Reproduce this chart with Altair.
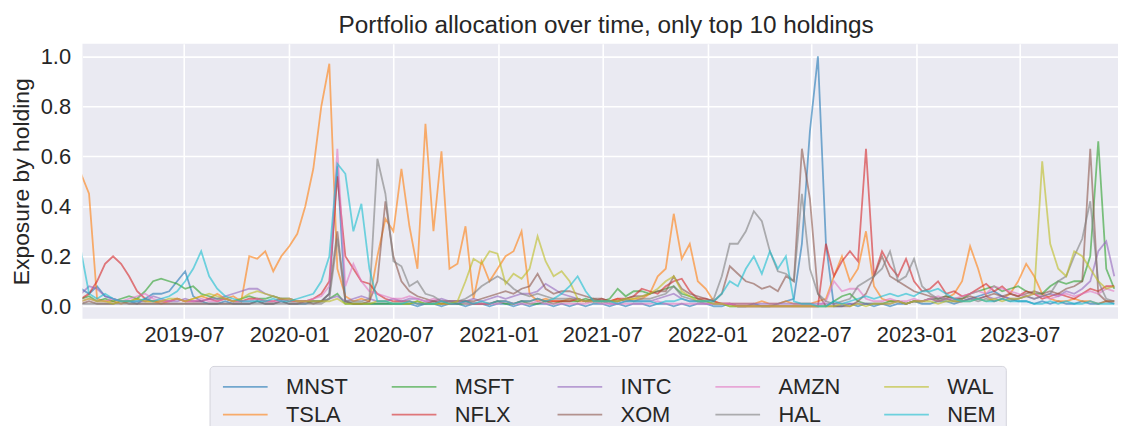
import altair as alt
import pandas as pd

FONT = "Liberation Sans"
TEXT = "#262626"

# sampling: every 14 days starting 2019-01-02
START_DATE = "2019-01-02"
STEP = "14D"
N_POINTS = 130

holdings = ["MNST", "TSLA", "MSFT", "NFLX", "INTC", "XOM", "AMZN", "HAL", "WAL", "NEM"]
colors = ["#1f77b4", "#ff7f0e", "#2ca02c", "#d62728", "#9467bd",
          "#8c564b", "#e377c2", "#7f7f7f", "#bcbd22", "#17becf"]

mnst = [0.07, 0.05, 0.08, 0.04, 0.03, 0.02, 0.02, 0.01, 0.03, 0.05,
        0.05, 0.06, 0.10, 0.14, 0.04, 0.02, 0.01, 0.01, 0.02, 0.01,
        0.01, 0.01, 0.02, 0.01, 0.01, 0.02, 0.01, 0.01, 0.01, 0.02,
        0.02, 0.05, 0.56, 0.02, 0.01, 0.01, 0.01, 0.01, 0.01, 0.01,
        0.01, 0.01, 0.00, 0.01, 0.01, 0.00, 0.01, 0.01, 0.00, 0.01,
        0.01, 0.00, 0.01, 0.01, 0.00, 0.01, 0.00, 0.01, 0.01, 0.00,
        0.01, 0.00, 0.01, 0.00, 0.01, 0.01, 0.00, 0.01, 0.00, 0.01,
        0.01, 0.00, 0.01, 0.01, 0.00, 0.01, 0.00, 0.01, 0.01, 0.00,
        0.00, 0.01, 0.00, 0.00, 0.01, 0.00, 0.00, 0.01, 0.02, 0.03,
        0.25, 0.70, 1.00, 0.25, 0.00, 0.00, 0.01, 0.00, 0.01, 0.00,
        0.01, 0.00, 0.01, 0.01, 0.02, 0.01, 0.01, 0.02, 0.02, 0.01,
        0.02, 0.03, 0.04, 0.05, 0.06, 0.04, 0.03, 0.02, 0.02, 0.01,
        0.02, 0.01, 0.02, 0.01, 0.01, 0.02, 0.01, 0.01, 0.02, 0.01]

tsla = [0.53, 0.45, 0.03, 0.02, 0.02, 0.01, 0.02, 0.03, 0.02, 0.02,
        0.01, 0.02, 0.03, 0.02, 0.03, 0.04, 0.03, 0.05, 0.03, 0.04,
        0.02, 0.20, 0.19, 0.22, 0.14, 0.20, 0.24, 0.29, 0.40, 0.55,
        0.80, 0.97, 0.15, 0.04, 0.02, 0.03, 0.02, 0.20, 0.35, 0.30,
        0.55, 0.32, 0.15, 0.73, 0.30, 0.62, 0.15, 0.17, 0.32, 0.03,
        0.18, 0.10, 0.15, 0.20, 0.22, 0.30, 0.05, 0.02, 0.03, 0.02,
        0.02, 0.03, 0.02, 0.02, 0.03, 0.02, 0.02, 0.03, 0.02, 0.03,
        0.03, 0.05, 0.12, 0.15, 0.37, 0.19, 0.25, 0.10, 0.07, 0.02,
        0.01, 0.01, 0.01, 0.01, 0.01, 0.02, 0.01, 0.01, 0.02, 0.01,
        0.01, 0.01, 0.02, 0.03, 0.12, 0.20, 0.10, 0.15, 0.30, 0.08,
        0.03, 0.02, 0.02, 0.01, 0.02, 0.02, 0.03, 0.02, 0.03, 0.05,
        0.10, 0.24, 0.15, 0.04, 0.02, 0.03, 0.05, 0.10, 0.17, 0.12,
        0.05, 0.03, 0.02, 0.02, 0.03, 0.02, 0.02, 0.01, 0.02, 0.02]

msft = [0.03, 0.04, 0.02, 0.03, 0.02, 0.03, 0.04, 0.03, 0.06, 0.10,
        0.11, 0.10, 0.09, 0.07, 0.08, 0.05, 0.04, 0.03, 0.03, 0.02,
        0.03, 0.04, 0.03, 0.03, 0.04, 0.03, 0.03, 0.02, 0.02, 0.02,
        0.02, 0.03, 0.05, 0.01, 0.01, 0.01, 0.01, 0.01, 0.01, 0.01,
        0.01, 0.01, 0.02, 0.01, 0.01, 0.01, 0.02, 0.01, 0.01, 0.01,
        0.01, 0.01, 0.02, 0.01, 0.01, 0.02, 0.01, 0.01, 0.02, 0.01,
        0.02, 0.02, 0.02, 0.03, 0.02, 0.02, 0.03, 0.07, 0.04, 0.06,
        0.06, 0.05, 0.06, 0.07, 0.08, 0.05, 0.04, 0.03, 0.02, 0.01,
        0.01, 0.00, 0.00, 0.00, 0.00, 0.00, 0.00, 0.00, 0.00, 0.00,
        0.00, 0.00, 0.00, 0.00, 0.02, 0.04, 0.05, 0.02, 0.01, 0.01,
        0.01, 0.02, 0.02, 0.01, 0.02, 0.02, 0.03, 0.03, 0.04, 0.03,
        0.03, 0.05, 0.06, 0.07, 0.08, 0.06, 0.07, 0.08, 0.06, 0.05,
        0.05, 0.08, 0.10, 0.09, 0.10, 0.10, 0.20, 0.66, 0.15, 0.07]

nflx = [0.03, 0.05, 0.10, 0.17, 0.20, 0.17, 0.12, 0.06, 0.03, 0.02,
        0.02, 0.02, 0.03, 0.02, 0.02, 0.02, 0.03, 0.02, 0.03, 0.02,
        0.02, 0.03, 0.03, 0.02, 0.02, 0.03, 0.02, 0.02, 0.02, 0.03,
        0.05, 0.10, 0.52, 0.20, 0.15, 0.10, 0.09, 0.05, 0.03, 0.02,
        0.02, 0.02, 0.01, 0.01, 0.02, 0.01, 0.01, 0.01, 0.02, 0.01,
        0.01, 0.01, 0.02, 0.02, 0.01, 0.02, 0.02, 0.03, 0.02, 0.02,
        0.02, 0.02, 0.03, 0.02, 0.02, 0.03, 0.02, 0.03, 0.03, 0.04,
        0.07, 0.06, 0.05, 0.08, 0.10, 0.11, 0.06, 0.03, 0.03, 0.02,
        0.01, 0.01, 0.00, 0.00, 0.00, 0.00, 0.00, 0.00, 0.00, 0.00,
        0.00, 0.00, 0.00, 0.25, 0.12, 0.18, 0.22, 0.18, 0.63, 0.12,
        0.22, 0.16, 0.12, 0.19, 0.10, 0.06, 0.07, 0.10, 0.05, 0.06,
        0.04, 0.05, 0.07, 0.09, 0.06, 0.08, 0.05, 0.04, 0.06, 0.05,
        0.03, 0.04, 0.05, 0.04, 0.03, 0.05, 0.07, 0.06, 0.08, 0.08]

intc = [0.05, 0.08, 0.07, 0.04, 0.03, 0.02, 0.02, 0.02, 0.02, 0.04,
        0.03, 0.02, 0.02, 0.03, 0.02, 0.02, 0.03, 0.03, 0.04, 0.05,
        0.06, 0.07, 0.07, 0.05, 0.04, 0.03, 0.03, 0.02, 0.02, 0.02,
        0.02, 0.03, 0.04, 0.02, 0.03, 0.04, 0.03, 0.02, 0.02, 0.03,
        0.02, 0.03, 0.03, 0.02, 0.02, 0.03, 0.02, 0.02, 0.02, 0.03,
        0.02, 0.03, 0.04, 0.03, 0.04, 0.05, 0.05, 0.06, 0.09, 0.07,
        0.05, 0.04, 0.03, 0.02, 0.02, 0.02, 0.01, 0.01, 0.02, 0.02,
        0.02, 0.02, 0.03, 0.04, 0.05, 0.03, 0.02, 0.02, 0.01, 0.01,
        0.01, 0.01, 0.01, 0.01, 0.01, 0.01, 0.01, 0.01, 0.01, 0.01,
        0.01, 0.01, 0.01, 0.01, 0.01, 0.01, 0.01, 0.01, 0.01, 0.01,
        0.01, 0.01, 0.02, 0.01, 0.02, 0.02, 0.03, 0.02, 0.03, 0.02,
        0.02, 0.03, 0.03, 0.04, 0.03, 0.04, 0.03, 0.03, 0.04, 0.03,
        0.04, 0.05, 0.04, 0.06, 0.05, 0.07, 0.10, 0.22, 0.26, 0.12]

xom = [0.01, 0.02, 0.01, 0.01, 0.01, 0.02, 0.01, 0.01, 0.01, 0.01,
       0.01, 0.01, 0.01, 0.01, 0.01, 0.01, 0.01, 0.01, 0.01, 0.01,
       0.01, 0.01, 0.02, 0.01, 0.01, 0.02, 0.01, 0.01, 0.02, 0.01,
       0.02, 0.05, 0.30, 0.02, 0.01, 0.01, 0.02, 0.10, 0.42, 0.20,
       0.10, 0.06, 0.04, 0.03, 0.02, 0.02, 0.02, 0.02, 0.02, 0.02,
       0.03, 0.04, 0.05, 0.06, 0.05, 0.07, 0.08, 0.13, 0.07, 0.05,
       0.06, 0.06, 0.05, 0.04, 0.03, 0.03, 0.02, 0.02, 0.03, 0.04,
       0.04, 0.05, 0.06, 0.06, 0.12, 0.07, 0.05, 0.04, 0.03, 0.02,
       0.05, 0.16, 0.13, 0.10, 0.09, 0.07, 0.08, 0.06, 0.12, 0.10,
       0.63, 0.43, 0.05, 0.00, 0.00, 0.00, 0.00, 0.02, 0.05, 0.12,
       0.20, 0.12, 0.10, 0.08, 0.06, 0.05, 0.04, 0.03, 0.04, 0.03,
       0.03, 0.04, 0.03, 0.04, 0.05, 0.04, 0.05, 0.04, 0.05, 0.06,
       0.05, 0.06, 0.05, 0.07, 0.08, 0.10, 0.63, 0.05, 0.02, 0.02]

amzn = [0.02, 0.03, 0.02, 0.02, 0.03, 0.02, 0.03, 0.04, 0.05, 0.03,
        0.02, 0.02, 0.03, 0.02, 0.02, 0.03, 0.02, 0.02, 0.03, 0.02,
        0.02, 0.02, 0.03, 0.02, 0.02, 0.02, 0.03, 0.02, 0.02, 0.03,
        0.04, 0.08, 0.63, 0.08, 0.17, 0.10, 0.06, 0.05, 0.04, 0.03,
        0.03, 0.04, 0.03, 0.02, 0.03, 0.02, 0.02, 0.02, 0.01, 0.01,
        0.01, 0.01, 0.01, 0.02, 0.01, 0.01, 0.01, 0.02, 0.01, 0.01,
        0.01, 0.01, 0.01, 0.01, 0.02, 0.01, 0.01, 0.01, 0.01, 0.01,
        0.01, 0.01, 0.02, 0.01, 0.01, 0.01, 0.01, 0.01, 0.01, 0.01,
        0.01, 0.01, 0.00, 0.00, 0.00, 0.00, 0.00, 0.00, 0.00, 0.00,
        0.00, 0.00, 0.00, 0.02, 0.10, 0.06, 0.07, 0.07, 0.03, 0.02,
        0.02, 0.03, 0.02, 0.02, 0.03, 0.02, 0.03, 0.04, 0.03, 0.03,
        0.04, 0.05, 0.06, 0.05, 0.08, 0.07, 0.06, 0.05, 0.04, 0.05,
        0.04, 0.03, 0.04, 0.05, 0.04, 0.05, 0.06, 0.05, 0.07, 0.06]

hal = [0.01, 0.01, 0.01, 0.01, 0.01, 0.01, 0.01, 0.01, 0.01, 0.01,
       0.01, 0.01, 0.01, 0.01, 0.01, 0.01, 0.01, 0.01, 0.01, 0.01,
       0.01, 0.01, 0.01, 0.01, 0.01, 0.01, 0.01, 0.01, 0.01, 0.01,
       0.01, 0.03, 0.27, 0.02, 0.02, 0.02, 0.03, 0.59, 0.45, 0.18,
       0.16, 0.08, 0.10, 0.05, 0.04, 0.02, 0.02, 0.02, 0.03, 0.05,
       0.08, 0.10, 0.12, 0.10, 0.07, 0.05, 0.04, 0.05, 0.04, 0.03,
       0.03, 0.03, 0.03, 0.02, 0.03, 0.02, 0.02, 0.02, 0.03, 0.02,
       0.03, 0.03, 0.04, 0.05, 0.08, 0.04, 0.03, 0.02, 0.02, 0.03,
       0.12, 0.25, 0.25, 0.30, 0.38, 0.34, 0.22, 0.14, 0.13, 0.10,
       0.45, 0.15, 0.05, 0.02, 0.01, 0.02, 0.03, 0.08, 0.10, 0.12,
       0.15, 0.22, 0.10, 0.12, 0.19, 0.08, 0.05, 0.03, 0.03, 0.02,
       0.02, 0.03, 0.02, 0.03, 0.02, 0.03, 0.02, 0.03, 0.04, 0.03,
       0.04, 0.05, 0.10, 0.12, 0.20, 0.27, 0.42, 0.10, 0.03, 0.02]

wal = [0.02, 0.03, 0.02, 0.02, 0.01, 0.02, 0.02, 0.03, 0.02, 0.02,
       0.02, 0.03, 0.03, 0.02, 0.03, 0.04, 0.05, 0.04, 0.03, 0.02,
       0.03, 0.05, 0.06, 0.05, 0.04, 0.03, 0.03, 0.02, 0.02, 0.02,
       0.02, 0.02, 0.03, 0.01, 0.01, 0.01, 0.01, 0.02, 0.02, 0.01,
       0.01, 0.01, 0.02, 0.01, 0.01, 0.01, 0.01, 0.02, 0.10, 0.19,
       0.17, 0.22, 0.21, 0.09, 0.13, 0.11, 0.15, 0.28, 0.18, 0.12,
       0.14, 0.10, 0.03, 0.02, 0.02, 0.02, 0.02, 0.02, 0.03, 0.03,
       0.04, 0.05, 0.07, 0.10, 0.12, 0.06, 0.04, 0.02, 0.02, 0.01,
       0.01, 0.00, 0.00, 0.00, 0.00, 0.00, 0.00, 0.00, 0.00, 0.00,
       0.00, 0.00, 0.00, 0.00, 0.00, 0.01, 0.00, 0.01, 0.00, 0.01,
       0.01, 0.01, 0.02, 0.01, 0.02, 0.02, 0.02, 0.01, 0.02, 0.02,
       0.02, 0.02, 0.03, 0.02, 0.03, 0.02, 0.03, 0.03, 0.04, 0.05,
       0.58, 0.25, 0.15, 0.12, 0.22, 0.20, 0.15, 0.10, 0.07, 0.08]

nem = [0.22, 0.05, 0.03, 0.05, 0.03, 0.02, 0.02, 0.02, 0.03, 0.02,
       0.03, 0.04, 0.06, 0.10, 0.15, 0.22, 0.12, 0.07, 0.04, 0.03,
       0.02, 0.02, 0.02, 0.02, 0.03, 0.02, 0.02, 0.03, 0.04, 0.05,
       0.10, 0.20, 0.57, 0.53, 0.30, 0.41, 0.15, 0.02, 0.02, 0.01,
       0.01, 0.02, 0.01, 0.01, 0.01, 0.02, 0.01, 0.01, 0.02, 0.01,
       0.02, 0.01, 0.02, 0.02, 0.01, 0.02, 0.02, 0.03, 0.02, 0.03,
       0.05, 0.08, 0.12, 0.06, 0.02, 0.02, 0.02, 0.01, 0.02, 0.02,
       0.02, 0.02, 0.01, 0.02, 0.02, 0.03, 0.02, 0.02, 0.02, 0.02,
       0.05, 0.10, 0.08, 0.15, 0.20, 0.13, 0.22, 0.15, 0.20, 0.02,
       0.01, 0.01, 0.00, 0.00, 0.02, 0.01, 0.02, 0.03, 0.04, 0.03,
       0.04, 0.05, 0.04, 0.05, 0.04, 0.06, 0.06, 0.07, 0.05, 0.03,
       0.02, 0.02, 0.03, 0.02, 0.02, 0.03, 0.02, 0.02, 0.02, 0.01,
       0.01, 0.02, 0.01, 0.02, 0.01, 0.01, 0.02, 0.01, 0.01, 0.01]

series = [mnst, tsla, msft, nflx, intc, xom, amzn, hal, wal, nem]

x_tick_dates = ["2019-07-01", "2020-01-01", "2020-07-01", "2021-01-01", "2021-07-01",
                "2022-01-01", "2022-07-01", "2023-01-01", "2023-07-01"]
x_domain_dates = ["2019-01-04 12:00", "2023-12-19 12:00"]
y_ticks = [0.0, 0.2, 0.4, 0.6, 0.8, 1.0]


def ms(d):
    return int(pd.Timestamp(d).timestamp() * 1000)


dates = pd.date_range(START_DATE, periods=N_POINTS, freq=STEP)
rows = []
for name, vals in zip(holdings, series):
    if len(vals) != N_POINTS:
        raise ValueError(f"{name} has {len(vals)} values")
    for d, v in zip(dates, vals):
        rows.append({"date": ms(d), "holding": name, "value": v})
df = pd.DataFrame(rows)

# matplotlib fills its 5 legend columns top-to-bottom; a horizontal
# Vega legend fills rows, so list the entries row by row
legend_order = holdings[0::2] + holdings[1::2]
color_of = dict(zip(holdings, colors))
legend_colors = [color_of[h] for h in legend_order]

chart = alt.Chart(df).mark_line(strokeWidth=1.8, opacity=0.6, clip=True).encode(
    x=alt.X("date:T",
            scale=alt.Scale(type="utc", domain=[ms(d) for d in x_domain_dates]),
            axis=alt.Axis(values=[ms(d) for d in x_tick_dates], format="%Y-%m",
                          title=None, labelPadding=6, labelFlush=False)),
    y=alt.Y("value:Q",
            scale=alt.Scale(domain=[-0.05, 1.05], nice=False, zero=False),
            axis=alt.Axis(values=y_ticks, format=".1f", title="Exposure by holding",
                          labelPadding=12, titlePadding=7, titleFontSize=23)),
    color=alt.Color("holding:N",
                    scale=alt.Scale(domain=legend_order, range=legend_colors),
                    legend=alt.Legend(orient="none", direction="horizontal",
                                      legendX=128, legendY=324.5,
                                      columns=5, title=None,
                                      symbolType="M-1,0H5", symbolSize=225,
                                      symbolStrokeWidth=1.8, symbolOpacity=0.6,
                                      labelOffset=45, labelFont=FONT, labelFontSize=22,
                                      labelColor=TEXT, rowPadding=6, columnPadding=39,
                                      padding=10, fillColor="#EEEEF5", strokeColor="#d4d4dc",
                                      cornerRadius=4, gridAlign="each", labelLimit=200)),
).properties(
    width=1043,
    height=277,
    autosize=alt.AutoSizeParams(type="none"),
    padding={"left": 75, "top": 34.5, "right": 0, "bottom": 106.5},
    title=alt.TitleParams("Portfolio allocation over time, only top 10 holdings",
                          font=FONT, fontSize=24.5, fontWeight="normal", color=TEXT,
                          anchor="middle", offset=5, dx=6),
).configure_view(
    fill="#EAEAF2", stroke=None
).configure_axis(
    domain=False, ticks=False, grid=True, gridColor="white", gridWidth=1.6,
    labelFont=FONT, labelFontSize=22, labelColor=TEXT,
    titleFont=FONT, titleFontSize=24, titleColor=TEXT, titleFontWeight="normal",
)

chart.save("out.html", embed_options={"renderer": "svg", "actions": False})
